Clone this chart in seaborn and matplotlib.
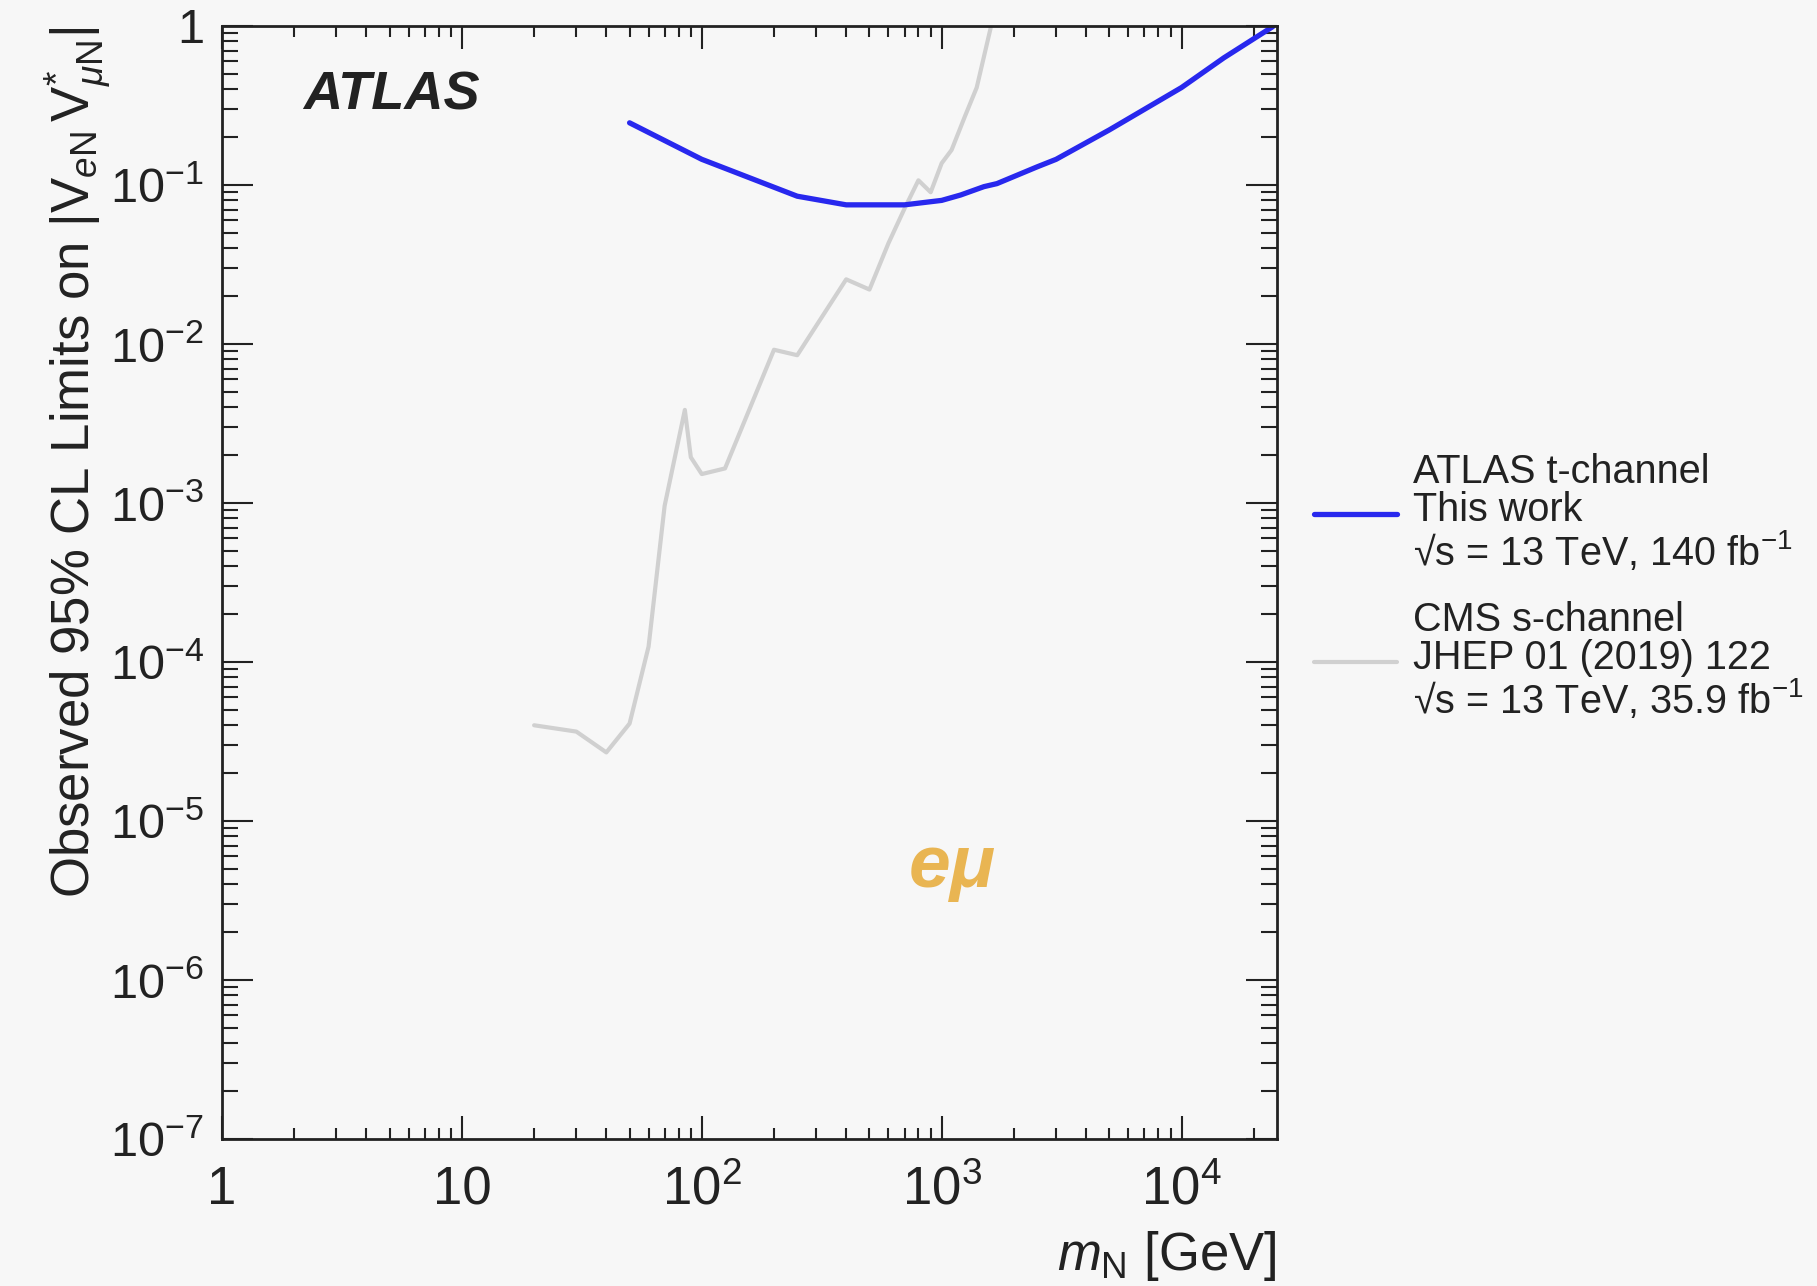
import numpy as np
import pandas as pd
import matplotlib
matplotlib.use("Agg")
import matplotlib.pyplot as plt
from matplotlib.ticker import FixedLocator, LogLocator, NullFormatter
from matplotlib.lines import Line2D
import seaborn as sns

# ---------------- data ----------------
atlas_mass = [50, 100, 250, 400, 500, 700, 1000, 1200, 1500, 1700, 2500, 3000, 5000, 10000, 15000, 24000]
atlas_limit = [0.246, 0.145, 0.085, 0.075, 0.075, 0.075, 0.080, 0.0865, 0.0976, 0.102, 0.130, 0.145,
               0.222, 0.41, 0.63, 0.99]

cms_mass = [20, 30, 40, 50, 60, 70, 85, 90, 100, 125, 200, 250, 400, 500, 600, 700, 800, 900,
            1000, 1100, 1250, 1400, 1600]
cms_limit = [4.0e-5, 3.65e-5, 2.7e-5, 4.1e-5, 1.25e-4, 9.6e-4, 3.85e-3, 1.94e-3, 1.52e-3, 1.65e-3,
             9.2e-3, 8.5e-3, 2.55e-2, 2.2e-2, 4.3e-2, 7.1e-2, 1.07e-1, 9.0e-2, 1.37e-1, 1.66e-1,
             2.7e-1, 4.1e-1, 0.97]

x_ticks = [1, 10, 100, 1000, 10000]
x_ticklabels = ["1", "10", "$10^{2}$", "$10^{3}$", "$10^{4}$"]
y_ticks = [1e-7, 1e-6, 1e-5, 1e-4, 1e-3, 1e-2, 1e-1, 1]
y_ticklabels = ["$10^{-7}$", "$10^{-6}$", "$10^{-5}$", "$10^{-4}$", "$10^{-3}$", "$10^{-2}$", "$10^{-1}$", "1"]

atlas_label = "ATLAS t-channel\nThis work\n√s = 13 TeV, 140 fb$^{-1}$"
cms_label = "CMS s-channel\nJHEP 01 (2019) 122\n√s = 13 TeV, 35.9 fb$^{-1}$"

BLUE = "#2828ee"
GRAY = "#d0d0d0"
BG = "#f7f7f7"
INK = "#222222"

# ---------------- style ----------------
sns.set_theme(style="ticks")
plt.rcParams["font.family"] = ["Liberation Sans", "DejaVu Sans"]
plt.rcParams["mathtext.fontset"] = "custom"
plt.rcParams["mathtext.rm"] = "Liberation Sans"
plt.rcParams["mathtext.it"] = "Liberation Sans:italic"
plt.rcParams["mathtext.bf"] = "Liberation Sans:bold"
plt.rcParams["text.color"] = INK
plt.rcParams["axes.labelcolor"] = INK

fig = plt.figure(figsize=(18.17, 12.86), dpi=100, facecolor=BG)
ax = fig.add_axes([0.1222, 0.1143, 0.5806, 0.8655])
ax.set_facecolor(BG)

df_cms = pd.DataFrame({"m": cms_mass, "lim": cms_limit})
df_atlas = pd.DataFrame({"m": atlas_mass, "lim": atlas_limit})

sns.lineplot(data=df_cms, x="m", y="lim", ax=ax, color=GRAY, linewidth=3.0, estimator=None)
sns.lineplot(data=df_atlas, x="m", y="lim", ax=ax, color=BLUE, linewidth=3.8, estimator=None)

ax.set_xscale("log")
ax.set_yscale("log")
ax.set_xlim(1, 25000)
ax.set_ylim(1e-7, 1)

ax.xaxis.set_major_locator(FixedLocator(x_ticks))
ax.set_xticklabels(x_ticklabels)
ax.xaxis.set_minor_locator(LogLocator(base=10, subs=np.arange(2, 10), numticks=50))
ax.xaxis.set_minor_formatter(NullFormatter())
ax.yaxis.set_major_locator(FixedLocator(y_ticks))
ax.set_yticklabels(y_ticklabels)
ax.yaxis.set_minor_locator(LogLocator(base=10, subs=np.arange(2, 10), numticks=50))
ax.yaxis.set_minor_formatter(NullFormatter())

for s in ax.spines.values():
    s.set_linewidth(2.0)
    s.set_color(INK)
    s.set_visible(True)

ax.tick_params(which="both", direction="in", top=True, right=True, colors=INK, width=1.5)
ax.tick_params(axis="x", which="major", length=16.5, labelsize=38, pad=47)
ax.tick_params(axis="x", which="minor", length=8)
ax.tick_params(axis="y", which="major", length=22, labelsize=35, pad=13)
ax.tick_params(axis="y", which="minor", length=11.5)
for lab in ax.get_xticklabels():
    lab.set_verticalalignment("baseline")

ax.set_xlabel("$m_{\\mathrm{N}}$ [GeV]", fontsize=38, loc="right", labelpad=10)
ax.set_ylabel("Observed 95% CL Limits on $|\\mathrm{V}_{e\\mathrm{N}}\\,\\mathrm{V}^{*}_{\\mu\\mathrm{N}}|$",
              fontsize=38, loc="top")
ax.yaxis.set_label_coords(-0.1045, 1.0)

ax.text(0.0768, 0.9375, "ATLAS", transform=ax.transAxes, fontsize=39, fontweight="bold",
        fontstyle="italic", va="center", ha="left", color=INK)
ax.text(0.692, 0.2264, "eμ", transform=ax.transAxes, fontsize=54, fontweight="bold",
        fontstyle="italic", va="baseline", ha="center", color="#e9b552")

handles = [Line2D([], [], color=BLUE, linewidth=3.8), Line2D([], [], color=GRAY, linewidth=3.0)]
leg = fig.legend(handles, [atlas_label, cms_label], loc="upper left", bbox_to_anchor=(0.7232, 0.648),
                 frameon=False, fontsize=28.5, handlelength=2.1, handletextpad=0.4, labelspacing=0.72,
                 borderaxespad=0, borderpad=0)
for t in leg.get_texts():
    t.set_linespacing(1.0)
    t.set_color(INK)

fig.savefig("out.png", dpi=100, facecolor=BG)
